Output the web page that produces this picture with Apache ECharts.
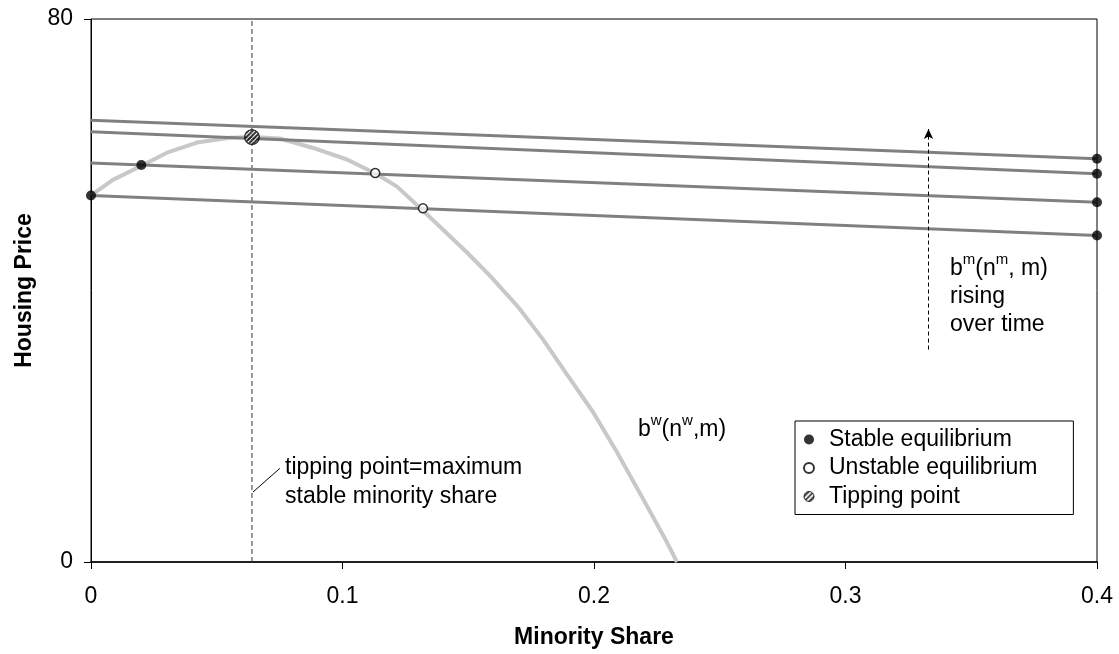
<!DOCTYPE html>
<html>
<head>
<meta charset="utf-8">
<script src="https://cdn.jsdelivr.net/npm/echarts@6/dist/echarts.min.js"></script>
<style>
html,body{margin:0;padding:0;background:#fff;}
#chart{width:1119px;height:654px;}
</style>
</head>
<body>
<div id="chart"></div>
<script>
// ---- data ----
const xTicks = [0, 0.1, 0.2, 0.3, 0.4];
const yTicks = [0, 80];
// b^w(n^w, m) curve
const curveX = [0, 0.0087, 0.0207, 0.0302, 0.0421, 0.0553, 0.064, 0.0751, 0.0883, 0.1018, 0.1133, 0.1217, 0.1316, 0.1396, 0.1495, 0.1586, 0.1698, 0.1797, 0.1893, 0.1996, 0.2091, 0.2195, 0.229, 0.233];
const curveY = [54.0, 56.3, 58.5, 60.3, 61.8, 62.5, 62.6, 62.4, 61.0, 59.3, 57.2, 55.3, 51.9, 49.1, 45.6, 42.2, 37.6, 32.8, 27.6, 22.1, 16.2, 9.3, 2.9, 0];
// b^m(n^m, m) lines (value at x=0 and x=0.4)
const lineX = [0, 0.4];
const lineStart = [65.1, 63.4, 58.8, 54.0];
const lineEnd = [59.4, 57.2, 53.0, 48.1];
// equilibria
const stableX = [0, 0.02, 0.4, 0.4, 0.4, 0.4];
const stableY = [54.0, 58.5, 59.4, 57.2, 53.0, 48.1];
const unstableX = [0.113, 0.132];
const unstableY = [57.3, 52.1];
const tipX = [0.064];
const tipY = [62.6];
// annotations
const tipLineX = [0.064, 0.064];
const tipLineY = [0, 80];
const leaderX = [0.0644, 0.0751];
const leaderY = [10.3, 13.8];
const arrowX = 0.333;
const arrowY = [31.3, 63.8];

const FONT = 'Liberation Sans, Arial, Helvetica, sans-serif';
const FS = 23;

function zip(xs, ys) { return xs.map((x, i) => [x, ys[i]]); }

function hatchPattern() {
  const c = document.createElement('canvas');
  c.width = 5; c.height = 5;
  const g = c.getContext('2d');
  g.fillStyle = '#fff';
  g.fillRect(0, 0, 5, 5);
  g.strokeStyle = '#000';
  g.lineWidth = 1.6;
  g.beginPath();
  g.moveTo(-2.5, 2.5); g.lineTo(2.5, -2.5);
  g.moveTo(0, 5); g.lineTo(5, 0);
  g.moveTo(2.5, 7.5); g.lineTo(7.5, 2.5);
  g.stroke();
  return { image: c, repeat: 'repeat' };
}

function hatchSymbol() {
  const S = 60, k = S / 16;
  const c = document.createElement('canvas');
  c.width = S; c.height = S;
  const g = c.getContext('2d');
  g.save();
  g.beginPath();
  g.arc(S / 2, S / 2, S / 2 - 0.7 * k, 0, Math.PI * 2);
  g.fillStyle = '#fff';
  g.fill();
  g.clip();
  g.strokeStyle = '#111';
  g.lineWidth = 2.1 * k;
  g.beginPath();
  const p = 4.4 * k;
  for (let d = -S; d <= 2 * S; d += p) {
    g.moveTo(d - S, S); g.lineTo(d + S, -S);
  }
  g.stroke();
  g.restore();
  g.beginPath();
  g.arc(S / 2, S / 2, S / 2 - 0.7 * k, 0, Math.PI * 2);
  g.strokeStyle = '#000';
  g.lineWidth = 1.3 * k;
  g.stroke();
  return 'image://' + c.toDataURL();
}

const chart = echarts.init(document.getElementById('chart'), null, { renderer: 'canvas' });

const series = [];
series.push({
  name: 'bw', type: 'line', data: zip(curveX, curveY), showSymbol: false, smooth: false,
  lineStyle: { color: '#c8c8c8', width: 4 }, z: 2, silent: true,
  markLine: {
    silent: true, symbol: ['none', 'arrow'], symbolSize: [7, 10],
    lineStyle: { color: '#000', width: 1, type: [4, 3] }, label: { show: false },
    data: [[{ coord: [arrowX, arrowY[0]] }, { coord: [arrowX, arrowY[1]] }]]
  }
});
lineStart.forEach((s, i) => {
  series.push({
    name: 'bm' + i, type: 'line', data: zip(lineX, [s, lineEnd[i]]), showSymbol: false,
    lineStyle: { color: '#808080', width: 3 }, z: 3, silent: true
  });
});
series.push({
  name: 'tipline', type: 'line', data: zip(tipLineX, tipLineY), showSymbol: false,
  lineStyle: { color: '#333', width: 1, type: [5, 3] }, z: 1, silent: true
});
series.push({
  name: 'leader', type: 'line', data: zip(leaderX, leaderY), showSymbol: false,
  lineStyle: { color: '#000', width: 1 }, z: 1, silent: true
});
series.push({
  name: 'Stable equilibrium', type: 'scatter', data: zip(stableX, stableY), symbol: 'circle', symbolSize: 10,
  itemStyle: { color: '#000' }, z: 5, clip: false, silent: true
});
series.push({
  name: 'Unstable equilibrium', type: 'scatter', data: zip(unstableX, unstableY), symbol: 'circle', symbolSize: 9,
  itemStyle: { color: '#fff', borderColor: '#000', borderWidth: 1.5 }, z: 5, clip: false, silent: true
});
series.push({
  name: 'Tipping point', type: 'scatter', data: zip(tipX, tipY), symbol: hatchSymbol(), symbolSize: 16,
  itemStyle: { color: '#555' }, z: 6, clip: false, silent: true
});

const option = {
  animation: false,
  backgroundColor: '#fff',
  textStyle: { fontFamily: FONT },
  grid: { left: 91, right: 22, top: 19, bottom: 91, show: true, borderColor: '#000', borderWidth: 1, containLabel: false },
  xAxis: {
    type: 'value', min: xTicks[0], max: xTicks[xTicks.length - 1], interval: 0.1,
    name: 'Minority Share', nameLocation: 'middle', nameGap: 64,
    nameTextStyle: { fontSize: FS, fontWeight: 'bold', color: '#000', fontFamily: FONT },
    axisLine: { lineStyle: { color: '#000', width: 1.5 } },
    axisTick: { show: true, length: 7, lineStyle: { color: '#000', width: 1 } },
    axisLabel: { fontSize: FS, color: '#000', margin: 23, fontFamily: FONT, formatter: v => String(+v.toFixed(1)) },
    splitLine: { show: false }
  },
  yAxis: {
    type: 'value', min: yTicks[0], max: yTicks[1], interval: 80,
    name: 'Housing Price', nameLocation: 'middle', nameGap: 54,
    nameTextStyle: { fontSize: FS, fontWeight: 'bold', color: '#000', fontFamily: FONT },
    axisLine: { show: true, lineStyle: { color: '#000', width: 1 } },
    axisTick: { show: true, length: 7, lineStyle: { color: '#000', width: 1 } },
    axisLabel: { fontSize: FS, color: '#000', margin: 18, fontFamily: FONT },
    splitLine: { show: false }
  },
  legend: {
    orient: 'vertical', left: 795, top: 421,
    data: [
      { name: 'Stable equilibrium', icon: 'circle' },
      { name: 'Unstable equilibrium', icon: 'circle' },
      { name: 'Tipping point', icon: 'circle', itemStyle: { color: hatchPattern(), borderColor: '#000', borderWidth: 1 } }
    ],
    itemWidth: 30, itemHeight: 10, itemGap: 5.5, padding: [7, 36, 6.5, 8],
    borderColor: '#000', borderWidth: 1, backgroundColor: '#fff',
    selectedMode: false,
    textStyle: { fontSize: FS, color: '#000', fontFamily: FONT, lineHeight: 23 }
  },
  graphic: [
    {
      type: 'text', left: 285, top: 453, silent: true,
      style: { text: 'tipping point=maximum\nstable minority share', fontSize: FS, lineHeight: 29, fill: '#000', fontFamily: FONT }
    },
    {
      type: 'text', left: 638, top: 413, silent: true,
      style: {
        text: '{b|b}{s|w}{b|(n}{s|w}{b|,m)}', fill: '#000', fontFamily: FONT,
        rich: {
          b: { fontSize: FS, lineHeight: 28, fontFamily: FONT, fill: '#000', verticalAlign: 'bottom' },
          s: { fontSize: 15, lineHeight: 15, fontFamily: FONT, fill: '#000', verticalAlign: 'top' }
        }
      }
    },
    {
      type: 'text', left: 950, top: 252, silent: true,
      style: {
        text: '{b|b}{s|m}{b|(n}{s|m}{b|, m)}\n{b|rising}\n{b|over time}', fill: '#000', fontFamily: FONT,
        rich: {
          b: { fontSize: FS, lineHeight: 28, fontFamily: FONT, fill: '#000', verticalAlign: 'bottom' },
          s: { fontSize: 15, lineHeight: 15, fontFamily: FONT, fill: '#000', verticalAlign: 'top' }
        }
      }
    }
  ],
  series: series
};
chart.setOption(option);
</script>
</body>
</html>
